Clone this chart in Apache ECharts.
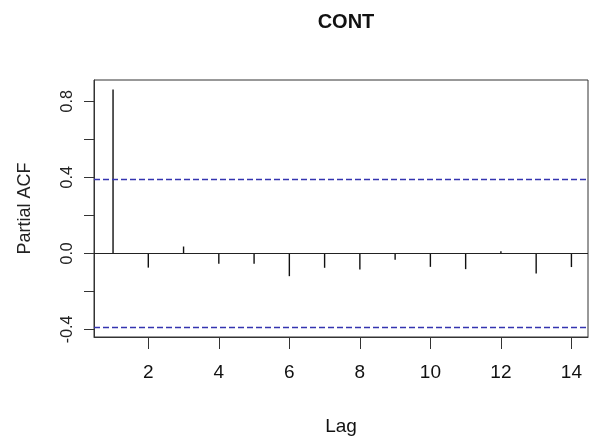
<!DOCTYPE html>
<html>
<head>
<meta charset="utf-8">
<script src="https://cdn.jsdelivr.net/npm/echarts@6/dist/echarts.min.js"></script>
<style>
  html, body { margin: 0; padding: 0; background: #fff; }
</style>
</head>
<body>
<div id="chart" style="width:589px; height:446px;"></div>
<script>
// PACF values, lag 1..14
const lags = [1, 2, 3, 4, 5, 6, 7, 8, 9, 10, 11, 12, 13, 14]
const pacf = [0.862, -0.075, 0.036, -0.055, -0.054, -0.12, -0.076, -0.085, -0.033, -0.071, -0.083, 0.011, -0.106, -0.072]
const ciLimit = 0.385
const xTicks = [2, 4, 6, 8, 10, 12, 14]
const yTicks = [-0.4, -0.2, 0, 0.2, 0.4, 0.6, 0.8]
const yLabels = [-0.4, 0, 0.4, 0.8]

const font = 'Liberation Sans, Arial, sans-serif'

const chart = echarts.init(document.getElementById('chart'))
chart.setOption({
  animation: false,
  title: {
    text: 'CONT',
    left: 341,
    top: 7,
    textAlign: 'center',
    textStyle: { fontFamily: font, fontWeight: 'bold', fontSize: 20, color: '#111' }
  },
  grid: {
    left: 94,
    right: 1,
    top: 80,
    bottom: 109,
    show: true,
    borderColor: '#333',
    borderWidth: 1
  },
  xAxis: {
    type: 'value',
    min: 0.46,
    max: 14.47,
    name: 'Lag',
    nameLocation: 'middle',
    nameGap: 80,
    nameTextStyle: { fontFamily: font, fontSize: 19, color: '#111' },
    splitLine: { show: false },
    axisLine: { show: true, onZero: false, lineStyle: { color: '#333', width: 1 } },
    axisTick: { show: true, length: 12, customValues: xTicks, lineStyle: { color: '#333', width: 1 } },
    axisLabel: {
      customValues: xTicks,
      margin: 26,
      fontFamily: font,
      fontSize: 19,
      color: '#111'
    }
  },
  yAxis: {
    type: 'value',
    min: -0.44,
    max: 0.912,
    name: 'Partial ACF',
    nameLocation: 'middle',
    nameGap: 60,
    nameTextStyle: { fontFamily: font, fontSize: 18, color: '#222' },
    splitLine: { show: false },
    axisLine: { show: true, onZero: false, lineStyle: { color: '#333', width: 1 } },
    axisTick: { show: true, length: 10, customValues: yTicks, lineStyle: { color: '#333', width: 1 } },
    axisLabel: {
      customValues: yLabels,
      rotate: 90,
      margin: 18,
      fontFamily: font,
      fontSize: 16,
      color: '#222',
      formatter: (v) => v.toFixed(1)
    }
  },
  series: [
    {
      type: 'bar',
      barWidth: 1.4,
      itemStyle: { color: '#111' },
      data: lags.map((l, i) => [l, pacf[i]]),
      markLine: {
        silent: true,
        symbol: 'none',
        label: { show: false },
        data: [
          { yAxis: 0, lineStyle: { color: '#222', type: 'solid', width: 1 } },
          { yAxis: ciLimit, lineStyle: { color: '#3434b0', type: [6, 3], width: 1.3 } },
          { yAxis: -ciLimit, lineStyle: { color: '#3434b0', type: [6, 3], width: 1.3 } }
        ]
      }
    }
  ]
})
</script>
</body>
</html>
